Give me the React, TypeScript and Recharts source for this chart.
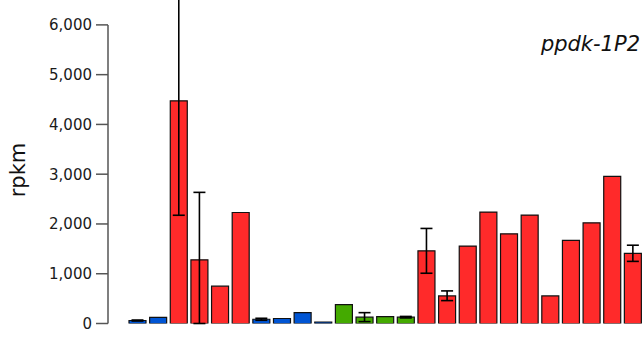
import { Bar, BarChart, Cell, ErrorBar, XAxis, YAxis } from 'recharts'

// per-sample expression (rpkm)
const samples = [
  's01', 's02', 's03', 's04', 's05', 's06', 's07', 's08', 's09', 's10',
  's11', 's12', 's13', 's14', 's15', 's16', 's17', 's18', 's19', 's20',
  's21', 's22', 's23', 's24', 's25',
]
const rpkm = [
  60, 125, 4475, 1280, 750, 2230, 85, 100, 220, 30,
  380, 128, 140, 127, 1460, 555, 1555, 2238, 1802, 2178,
  555, 1669, 2023, 2957, 1408,
]
// [minus, plus] error, null where the figure has no bar
const errors: ([number, number] | null)[] = [
  [10, 10], null, [2300, 2300], [1280, 1355], null, null, [20, 20], null, null, null,
  null, [90, 90], null, [15, 15], [450, 450], [95, 100], null, null, null, null,
  null, null, null, null, [160, 165],
]
const groups = [
  'blue', 'blue', 'red', 'red', 'red', 'red', 'blue', 'blue', 'blue', 'blue',
  'green', 'green', 'green', 'green', 'red', 'red', 'red', 'red', 'red', 'red',
  'red', 'red', 'red', 'red', 'red',
]
const yTicks = [0, 1000, 2000, 3000, 4000, 5000, 6000]
const yMax = 6500 // the figure is cropped just above the 6,000 tick
const title = 'ppdk-1P2'

const groupColors: Record<string, string> = { blue: '#0055d4', red: '#ff2a2a', green: '#44aa00' }

const data = samples.map((name, i) => ({ name, rpkm: rpkm[i], err: errors[i] }))

const font = 'DejaVu Sans, sans-serif'
const plotHeight = 342 - 18.5
const axisTop = plotHeight * (1 - 6000 / yMax)

export default function App() {
  return (
    <div style={{ position: 'absolute', left: 0, top: 0, width: 643, height: 342, fontFamily: font }}>
      <BarChart width={643} height={342} data={data} margin={{ top: 0, right: 0, bottom: 18.5, left: 0 }} barSize={17}>
        <XAxis dataKey="name" hide padding={{ left: 19, right: 0 }} />
        <YAxis
          width={108}
          domain={[0, yMax]}
          allowDataOverflow
          ticks={yTicks}
          tickFormatter={(v: number) => v.toLocaleString('en-US')}
          tick={{ fontSize: 15, fill: '#1a1a1a', fontFamily: font }}
          tickSize={12}
          tickMargin={4}
          tickLine={{ stroke: '#555555', strokeWidth: 1.5 }}
          axisLine={{ stroke: '#555555', strokeWidth: 1.5, strokeDasharray: `0 ${axisTop} ${plotHeight}` }}
        />
        <Bar dataKey="rpkm" stroke="#111111" strokeWidth={1.2} isAnimationActive={false}>
          {data.map((_, i) => <Cell key={i} fill={groupColors[groups[i]]} />)}
          <ErrorBar dataKey="err" width={6} stroke="#000000" strokeWidth={1.6} direction="y" />
        </Bar>
      </BarChart>
      <div style={{ position: 'absolute', right: 3, top: 32, fontSize: 21, fontStyle: 'italic', color: '#111111', lineHeight: '24px' }}>
        {title}
      </div>
      <div style={{ position: 'absolute', left: 18, top: 170, fontSize: 21, color: '#111111', lineHeight: '24px', transform: 'translate(-50%, -50%) rotate(-90deg)', whiteSpace: 'nowrap' }}>
        rpkm
      </div>
    </div>
  )
}
